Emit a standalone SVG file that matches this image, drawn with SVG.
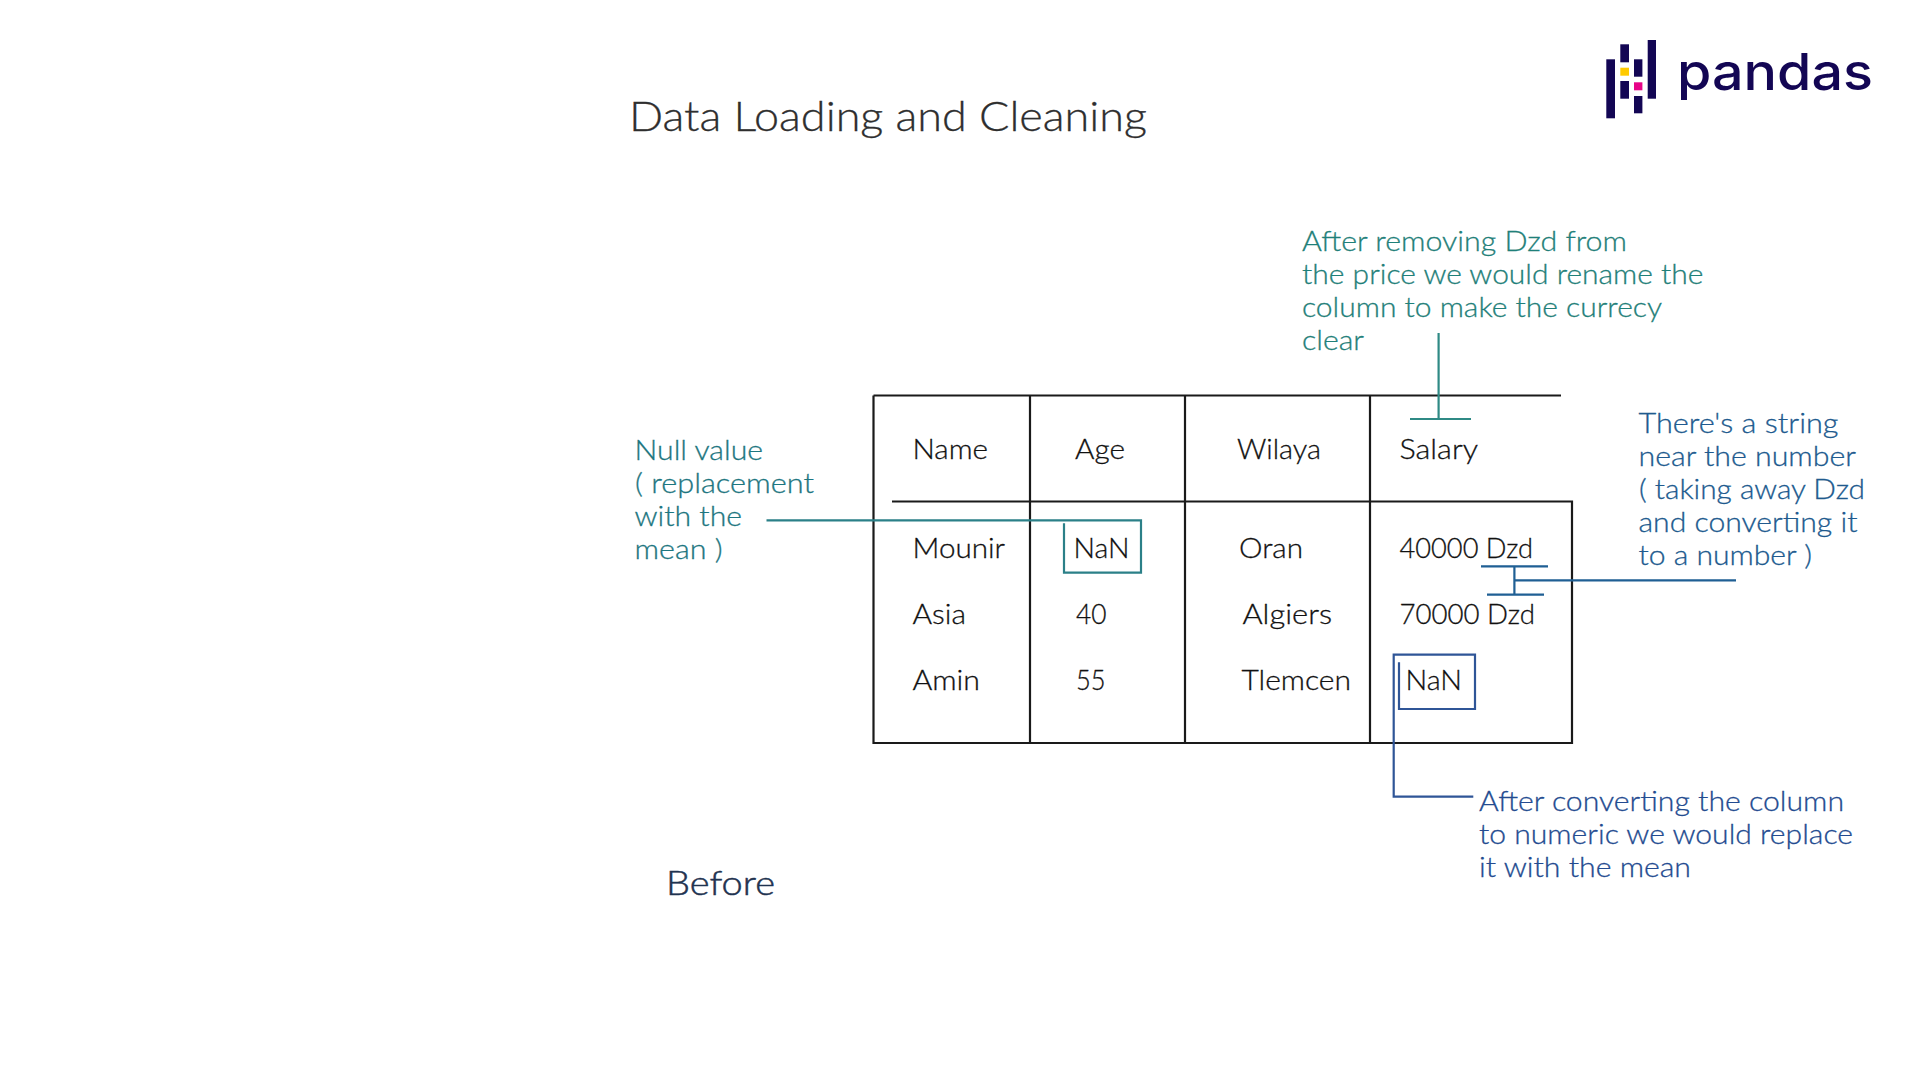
<svg xmlns="http://www.w3.org/2000/svg" width="1920" height="1080" viewBox="0 0 1920 1080">
<style>
text{font-family:"Lato","Noto Sans",sans-serif;font-weight:300;font-size:28px;stroke-width:.3px}
.cell{fill:#111;stroke:#111}
.teal{fill:#1f8079;stroke:#1f8079}.cyan{fill:#1d767f;stroke:#1d767f}.steel{fill:#205a8e;stroke:#205a8e}.blue{fill:#234b90;stroke:#234b90}
.k{fill:none;stroke:#1a1a1a;stroke-width:2.2}
.ct{fill:none;stroke:#2f8a85;stroke-width:2.2}
.cc{fill:none;stroke:#2b8088;stroke-width:2.2}
.cs{fill:none;stroke:#1f5f94;stroke-width:2.2}
.cb{fill:none;stroke:#2f5597;stroke-width:2.2}
</style>
<rect width="1920" height="1080" fill="#fff"/>
<g id="title"><text x="629" y="131" textLength="518" lengthAdjust="spacingAndGlyphs" style="font-size:41px;fill:#2e2e2e;stroke:#2e2e2e">Data Loading and Cleaning</text></g>
<g id="logo">
<g fill="#130654">
<rect x="1606.3" y="59.3" width="8.7" height="59"/>
<rect x="1620.3" y="44.3" width="8.7" height="18"/>
<rect x="1620.3" y="81" width="8.7" height="17.7"/>
<rect x="1634" y="59.3" width="8.4" height="17.4"/>
<rect x="1634" y="96" width="8.4" height="17.3"/>
<rect x="1647.7" y="40" width="8.3" height="58.7"/>
</g>
<rect x="1620.3" y="67.7" width="8.7" height="8" fill="#ffca00"/>
<rect x="1634" y="82.3" width="8.4" height="8" fill="#e70488"/>
<text x="1677" y="90" textLength="196" lengthAdjust="spacingAndGlyphs" style="font-family:'Inter','Lato',sans-serif;font-weight:500;font-size:51px;fill:#130654">pandas</text>
</g>
<g id="table">
<path class="k" d="M873.5 395.5H1561M873.5 395.5V743H1572V501.5H892M1030 395.5V743M1185 395.5V743M1370 395.5V743"/>
<g class="cell">
<text x="912.5" y="459" textLength="75.5" lengthAdjust="spacingAndGlyphs">Name</text>
<text x="1075" y="459" textLength="50" lengthAdjust="spacingAndGlyphs">Age</text>
<text x="1237" y="459" textLength="84" lengthAdjust="spacingAndGlyphs">Wilaya</text>
<text x="1399.5" y="459" textLength="78.5" lengthAdjust="spacingAndGlyphs">Salary</text>
<text x="912.5" y="558" textLength="92.5" lengthAdjust="spacingAndGlyphs">Mounir</text>
<text x="1073.5" y="558" textLength="56" lengthAdjust="spacingAndGlyphs">NaN</text>
<text x="1239" y="558" textLength="64" lengthAdjust="spacingAndGlyphs">Oran</text>
<text x="1399.5" y="558" textLength="133.5" lengthAdjust="spacingAndGlyphs">40000 Dzd</text>
<text x="912.5" y="624" textLength="53.5" lengthAdjust="spacingAndGlyphs">Asia</text>
<text x="1076" y="624" textLength="30.5" lengthAdjust="spacingAndGlyphs">40</text>
<text x="1242.5" y="624" textLength="89.5" lengthAdjust="spacingAndGlyphs">Algiers</text>
<text x="1399.5" y="624" textLength="135.5" lengthAdjust="spacingAndGlyphs">70000 Dzd</text>
<text x="912.5" y="690" textLength="67.5" lengthAdjust="spacingAndGlyphs">Amin</text>
<text x="1076" y="690" textLength="29.5" lengthAdjust="spacingAndGlyphs">55</text>
<text x="1241.5" y="690" textLength="109.5" lengthAdjust="spacingAndGlyphs">Tlemcen</text>
<text x="1405.5" y="690" textLength="56.5" lengthAdjust="spacingAndGlyphs">NaN</text>
</g>
</g>
<g id="note-rename" class="teal">
<text x="1302" y="251" textLength="325" lengthAdjust="spacingAndGlyphs">After removing Dzd from</text>
<text x="1302" y="283.5" textLength="401.5" lengthAdjust="spacingAndGlyphs">the price we would rename the</text>
<text x="1302" y="316.5" textLength="360" lengthAdjust="spacingAndGlyphs">column to make the currecy</text>
<text x="1302" y="349.5" textLength="62" lengthAdjust="spacingAndGlyphs">clear</text>
</g>
<g id="note-null" class="cyan">
<text x="634.5" y="460" textLength="128.5" lengthAdjust="spacingAndGlyphs">Null value</text>
<text x="635" y="493" textLength="179" lengthAdjust="spacingAndGlyphs">( replacement</text>
<text x="634.5" y="526" textLength="107.5" lengthAdjust="spacingAndGlyphs">with the</text>
<text x="634.5" y="559" textLength="88" lengthAdjust="spacingAndGlyphs">mean )</text>
</g>
<g id="note-string" class="steel">
<text x="1638.5" y="432.5" textLength="200" lengthAdjust="spacingAndGlyphs">There's a string</text>
<text x="1638.5" y="465.5" textLength="217.5" lengthAdjust="spacingAndGlyphs">near the number</text>
<text x="1639" y="498.5" textLength="226" lengthAdjust="spacingAndGlyphs">( taking away Dzd</text>
<text x="1638.5" y="531.5" textLength="219" lengthAdjust="spacingAndGlyphs">and converting it</text>
<text x="1638.5" y="564.5" textLength="173.5" lengthAdjust="spacingAndGlyphs">to a number )</text>
</g>
<g id="note-mean" class="blue">
<text x="1479" y="811" textLength="365" lengthAdjust="spacingAndGlyphs">After converting the column</text>
<text x="1479" y="844" textLength="374" lengthAdjust="spacingAndGlyphs">to numeric we would replace</text>
<text x="1479" y="877" textLength="212" lengthAdjust="spacingAndGlyphs">it with the mean</text>
</g>
<g id="before"><text x="666" y="895" textLength="109" lengthAdjust="spacingAndGlyphs" style="font-size:34px;fill:#1f3350;stroke:#1f3350;stroke-width:.5px">Before</text></g>
<g id="connectors">
<path class="cc" d="M766.5 520.3H1141V572.7H1064V523.3"/>
<path class="ct" d="M1438.6 333V419M1410 419H1471"/>
<path class="cs" d="M1481 566.3H1548M1487 594.7H1544M1514.4 566.3V594.7M1514.4 580.3H1736"/>
<path class="cb" d="M1399 662.3V709H1475V654.7H1393.7V796.7H1473.3"/>
</g>
</svg>
